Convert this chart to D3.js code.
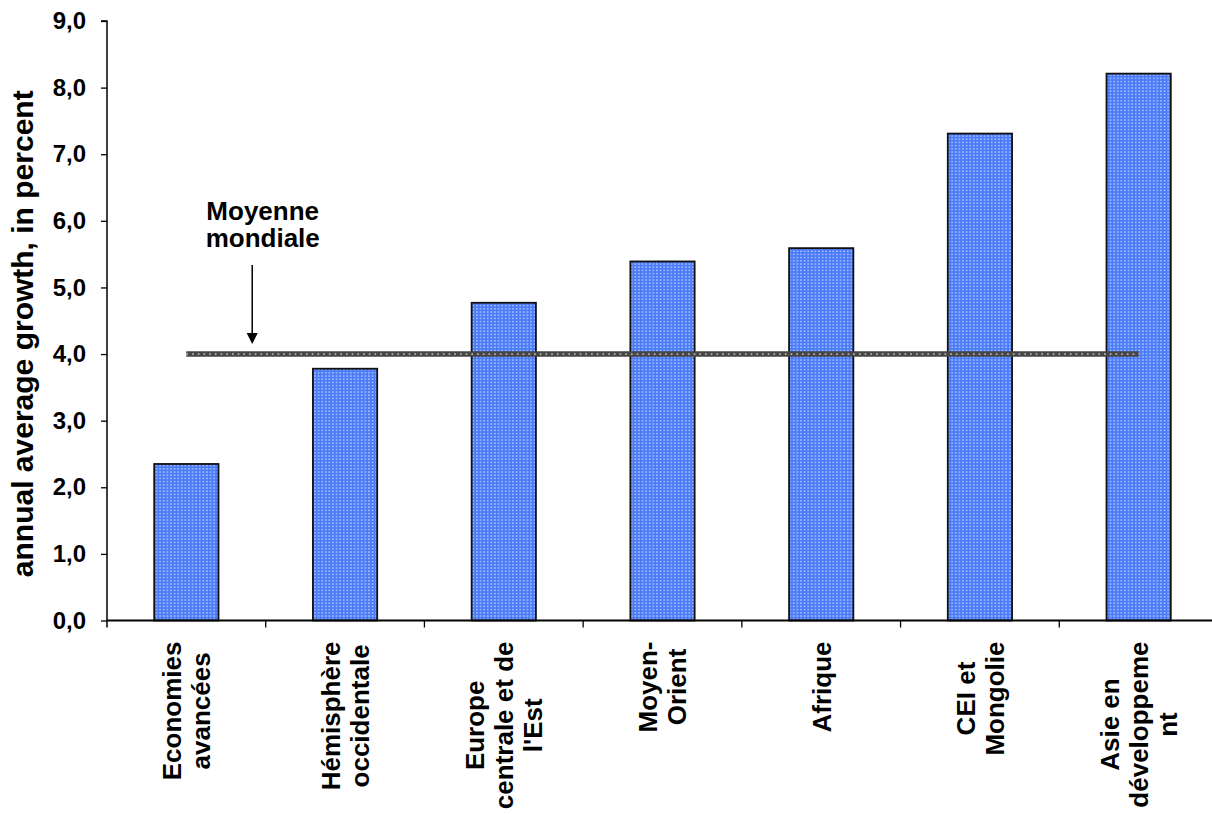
<!DOCTYPE html>
<html>
<head>
<meta charset="utf-8">
<script src="https://cdn.jsdelivr.net/npm/d3@7"></script>
<style>
  html, body { margin: 0; padding: 0; background: #fff; }
  svg { display: block; }
  text { font-family: Arial, "Liberation Sans", sans-serif; font-weight: bold; fill: #000; }
</style>
</head>
<body>
<svg id="chart" width="1212" height="814"></svg>
<script>
// Regional growth, annual average in percent
const categories = [
  ["Economies", "avancées"],
  ["Hémisphère", "occidentale"],
  ["Europe", "centrale et de", "l'Est"],
  ["Moyen-", "Orient"],
  ["Afrique"],
  ["CEI et", "Mongolie"],
  ["Asie en", "développeme", "nt"]
];
const growth = [2.35, 3.78, 4.77, 5.39, 5.59, 7.31, 8.21];
const worldAverage = 4.0;
const yTicks = [0, 1, 2, 3, 4, 5, 6, 7, 8, 9];
const yTitle = "annual average growth, in percent";
const noteLines = ["Moyenne", "mondiale"];

const svg = d3.select("#chart");
const W = 1212;
const plot = { left: 107, right: 1218, top: 21, bottom: 620.5 };

const keys = categories.map(c => c.join(" "));
const x = d3.scaleBand().domain(keys).range([plot.left, plot.right]);
const y = d3.scaleLinear().domain([0, 9]).range([plot.bottom, plot.top]);
const barW = x.bandwidth() * 0.405;

// dotted blue fill for the bars
const defs = svg.append("defs");
const pat = defs.append("pattern")
  .attr("id", "dots").attr("patternUnits", "userSpaceOnUse")
  .attr("width", 3.6).attr("height", 3.2);
pat.append("rect").attr("width", 3.6).attr("height", 3.2).attr("fill", "#4b7bf7");
pat.append("rect").attr("x", 1).attr("y", 1).attr("width", 1.5).attr("height", 1.3).attr("fill", "#bcd0ff");

// bars
svg.append("g").selectAll("rect").data(growth).join("rect")
  .attr("x", (d, i) => x(keys[i]) + (x.bandwidth() - barW) / 2)
  .attr("y", d => y(d))
  .attr("width", barW)
  .attr("height", d => y(0) - y(d))
  .attr("fill", "url(#dots)")
  .attr("stroke", "#111")
  .attr("stroke-width", 1.8);

// world average line, first to last category centre
const avgX0 = x(keys[0]) + x.bandwidth() / 2;
const avgX1 = x(keys[keys.length - 1]) + x.bandwidth() / 2;
svg.append("line")
  .attr("x1", avgX0).attr("x2", avgX1)
  .attr("y1", y(worldAverage)).attr("y2", y(worldAverage))
  .attr("stroke", "#464646").attr("stroke-width", 5.5);
svg.append("line")
  .attr("x1", avgX0).attr("x2", avgX1)
  .attr("y1", y(worldAverage)).attr("y2", y(worldAverage))
  .attr("stroke", "#b0b0b0").attr("stroke-width", 1.7)
  .attr("stroke-dasharray", "1.7,4");

// y axis
const yAxis = svg.append("g")
  .attr("transform", `translate(${plot.left},0)`)
  .call(d3.axisLeft(y).tickValues(yTicks).tickSize(6).tickPadding(15)
    .tickFormat(d => d.toFixed(1).replace(".", ",")));
yAxis.select(".domain").attr("stroke", "#000").attr("stroke-width", 1.5)
  .attr("d", `M-6,${y(9)}H0V${plot.bottom + 7}`);
yAxis.selectAll(".tick line").attr("stroke", "#000").attr("stroke-width", 1.3);
yAxis.selectAll(".tick text")
  .style("font-size", "24px").style("font-family", "Arial, 'Liberation Sans', sans-serif")
  .style("font-weight", "bold").attr("fill", "#000");

// x axis with ticks between categories
svg.append("line")
  .attr("x1", plot.left).attr("x2", W)
  .attr("y1", y(0)).attr("y2", y(0))
  .attr("stroke", "#000").attr("stroke-width", 1.8);
svg.append("g").selectAll("line").data(keys.slice(1)).join("line")
  .attr("x1", d => x(d)).attr("x2", d => x(d))
  .attr("y1", y(0)).attr("y2", y(0) + 7)
  .attr("stroke", "#000").attr("stroke-width", 1.3);

// category labels, rotated, longest line starting just below the axis
const labelTop = y(0) + 21;
const lineGap = 29;
const labelSize = 26;
categories.forEach((lines, i) => {
  const cx = x(keys[i]) + x.bandwidth() / 2;
  const g = svg.append("g").attr("transform", `translate(${cx},${labelTop}) rotate(-90)`);
  const texts = lines.map((t, j) => g.append("text")
    .attr("text-anchor", "middle")
    .style("font-size", labelSize + "px")
    .attr("y", (j - (lines.length - 1) / 2) * lineGap + labelSize * 0.36)
    .text(t));
  const longest = d3.max(texts, t => t.node().getComputedTextLength());
  texts.forEach(t => t.attr("x", -longest / 2));
});

// axis title
svg.append("text")
  .attr("transform", `translate(33,${(y(0) + y(9)) / 2 + 13}) rotate(-90)`)
  .attr("text-anchor", "middle")
  .style("font-size", "30px")
  .text(yTitle);

// annotation with arrow pointing at the average line
const noteX = x(keys[1]) - 13.5;
const noteTextX = noteX + 10.5;
const note = svg.append("text").attr("text-anchor", "middle").style("font-size", "26px");
noteLines.forEach((t, j) => note.append("tspan")
  .attr("x", noteTextX).attr("y", 219.5 + j * 27.5).text(t));
const tipY = y(worldAverage) - 10;
svg.append("line")
  .attr("x1", noteX).attr("x2", noteX)
  .attr("y1", 265).attr("y2", tipY - 8)
  .attr("stroke", "#000").attr("stroke-width", 1.5);
svg.append("path")
  .attr("d", `M${noteX - 5.5},${tipY - 11}L${noteX + 5.5},${tipY - 11}L${noteX},${tipY}Z`)
  .attr("fill", "#000");
</script>
</body>
</html>
